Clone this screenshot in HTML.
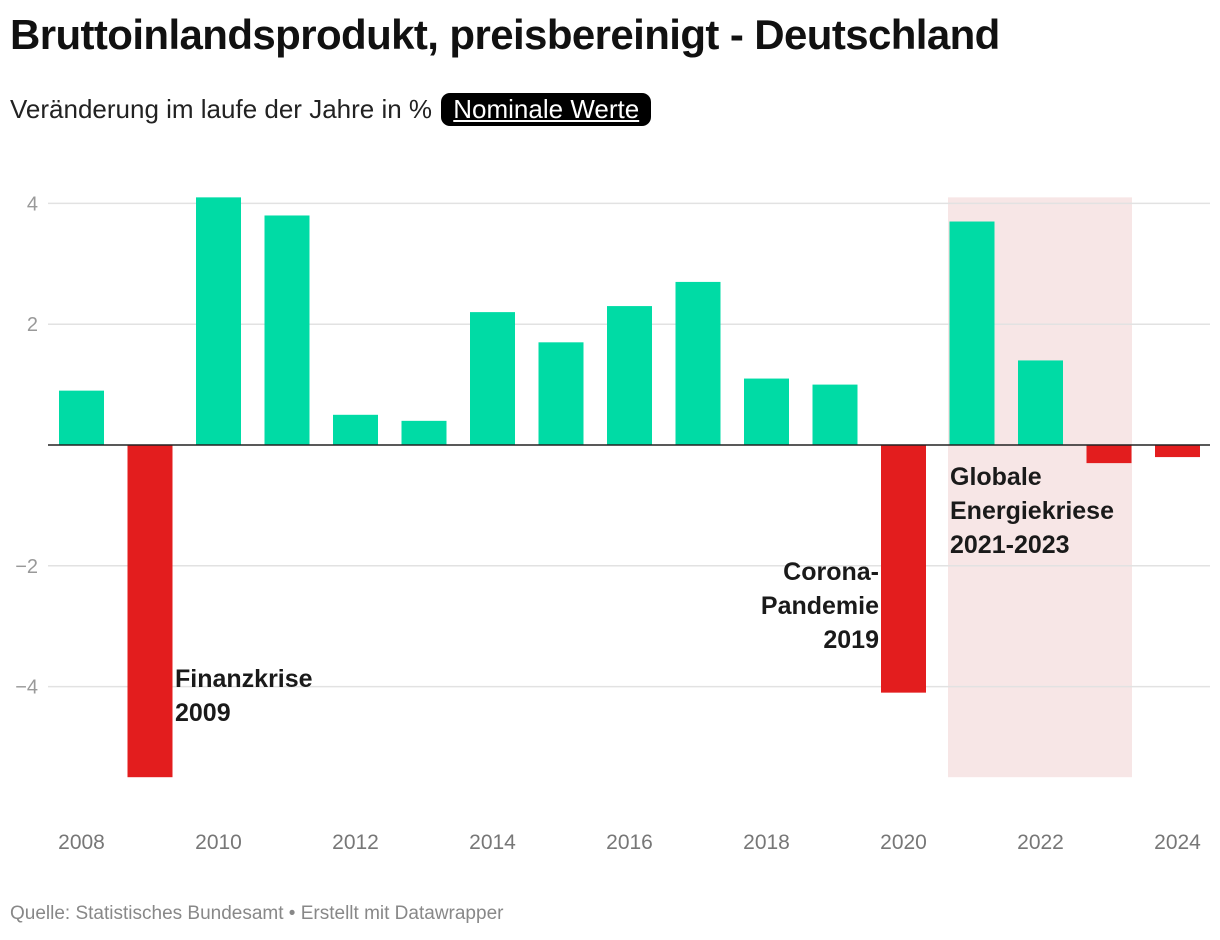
<!DOCTYPE html>
<html><head><meta charset="utf-8"><style>
body{margin:0;width:1220px;height:940px;background:#fff;font-family:"Liberation Sans",sans-serif;overflow:hidden;position:relative}
#title{position:absolute;left:10px;top:11px;font-size:42px;font-weight:bold;color:#111;letter-spacing:-0.6px}
#sub{position:absolute;left:10px;top:93px;font-size:26px;color:#222;white-space:nowrap}
#btn{display:inline-block;background:#000;color:#fff;text-decoration:underline;border-radius:9px;padding:1px 12px;margin-left:2px}
#foot{position:absolute;left:10px;top:903px;font-size:19px;color:#888}
</style></head><body>
<div id="title">Bruttoinlandsprodukt, preisbereinigt - Deutschland</div>
<div id="sub">Veränderung im laufe der Jahre in % <span id="btn">Nominale Werte</span></div>
<svg id="chart" width="1220" height="940" style="position:absolute;left:0;top:0"></svg>
<div id="foot">Quelle: Statistisches Bundesamt • Erstellt mit Datawrapper</div>
<script>
const years=[2008,2009,2010,2011,2012,2013,2014,2015,2016,2017,2018,2019,2020,2021,2022,2023,2024];
const values=[0.9,-5.5,4.1,3.8,0.5,0.4,2.2,1.7,2.3,2.7,1.1,1.0,-4.1,3.7,1.4,-0.3,-0.2];
const yTicks=[4,2,-2,-4];
const xTickYears=[2008,2010,2012,2014,2016,2018,2020,2022,2024];
const ns="http://www.w3.org/2000/svg";
const svg=document.getElementById('chart');
const y=v=>445-v*60.4;
const x=yr=>81.5+(yr-2008)*68.5;
function el(t,a){const e=document.createElementNS(ns,t);for(const k in a)e.setAttribute(k,a[k]);svg.appendChild(e);return e;}
const band=el('rect',{x:x(2021)-24,y:y(4.1),width:x(2023)-x(2021)+47,height:y(-5.5)-y(4.1),fill:'#f7e6e6'});


yTicks.forEach(t=>{
 const l=el('line',{x1:48,x2:1210,y1:y(t),y2:y(t),stroke:'#e2e2e2','stroke-width':1.5});
 
 
 const tx=el('text',{x:38,y:y(t)+7,'text-anchor':'end','font-size':20,fill:'#999'});
 tx.textContent=t<0?'\u2212'+Math.abs(t):String(t);
 
 
});
years.forEach((yr,i)=>{
 const v=values[i];
 const r=el('rect',{x:x(yr)-22.5,y:Math.min(y(v),y(0)),width:45,height:Math.abs(y(v)-y(0)),fill:v>=0?'#00dba5':'#e31d1e'});
 
 
});
const z=el('line',{x1:48,x2:1210,y1:y(0),y2:y(0),stroke:'#222','stroke-width':1.5});


xTickYears.forEach(yr=>{
 const t=el('text',{x:x(yr),y:849,'text-anchor':'middle','font-size':21,fill:'#777'});
 t.textContent=yr;
 
 
});
function ann(lines,xx,yy,anchor,name){
 lines.forEach((s,i)=>{
  const t=el('text',{x:xx,y:yy+i*34,'text-anchor':anchor,'font-size':25,'font-weight':'bold',fill:'#1a1a1a'});
  t.textContent=s;
  
  
 });
}
ann(['Finanzkrise','2009'],175,687,'start','annotation-finanzkrise');
ann(['Corona-','Pandemie','2019'],879,580,'end','annotation-corona');
ann(['Globale','Energiekriese','2021-2023'],950,485,'start','annotation-energiekrise');
</script>
</body></html>
